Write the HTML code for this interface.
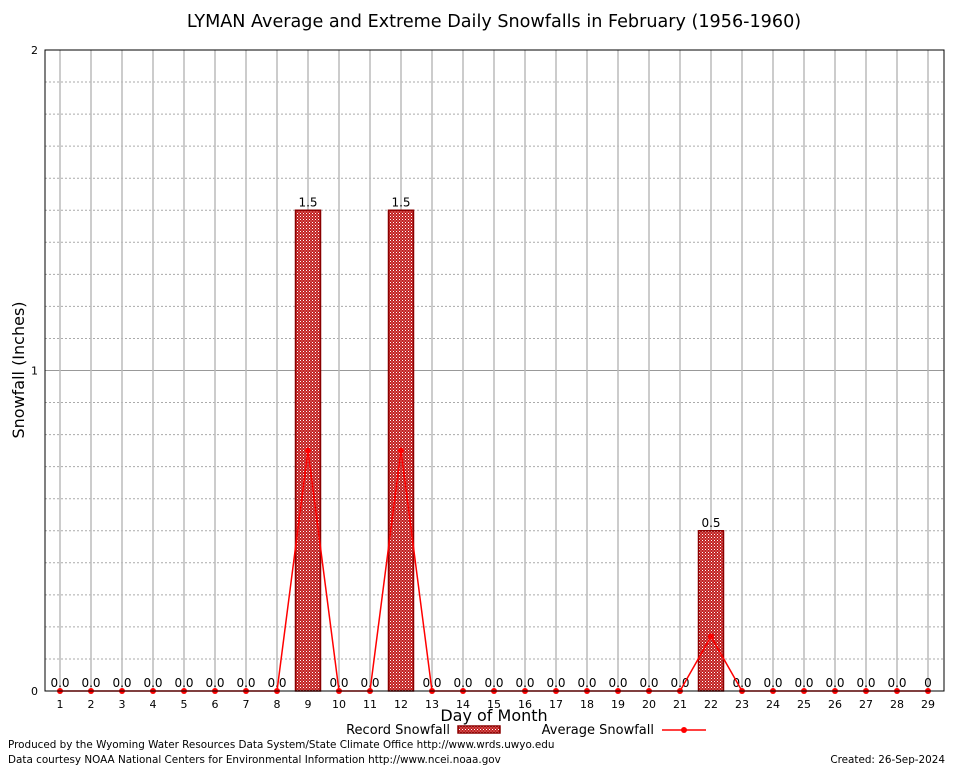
<!DOCTYPE html>
<html><head><meta charset="utf-8"><style>
body{margin:0;background:#fff;}
svg text{font-family:"DejaVu Sans","Liberation Sans",sans-serif;}
</style></head><body>
<svg id="c" width="954" height="768" xmlns="http://www.w3.org/2000/svg">
<defs>
<pattern id="hatch" width="3" height="3" patternUnits="userSpaceOnUse">
<rect width="3" height="3" fill="#c02020"/>
<rect width="1" height="1" fill="#fff"/>
<rect x="1.5" y="1.5" width="1" height="1" fill="#f0b0b0"/>
</pattern>
</defs>
<rect x="0" y="0" width="954" height="768" fill="#fff"/>
<text x="494" y="27" font-size="17.6" text-anchor="middle">LYMAN Average and Extreme Daily Snowfalls in February (1956-1960)</text>
<g id="grid"></g>
<g id="marks"></g>
<rect x="45" y="50" width="899" height="641" fill="none" stroke="#000" stroke-width="1"/>
<text x="24" y="370" font-size="16" text-anchor="middle" transform="rotate(-90 24 370)">Snowfall (Inches)</text>
<text x="494" y="721" font-size="16" text-anchor="middle">Day of Month</text>
<g>
<text x="450" y="734" font-size="13" text-anchor="end">Record Snowfall</text>
<rect x="458" y="726" width="42" height="7" fill="url(#hatch)" stroke="#8b0000" stroke-width="1.5"/>
</g>
<g>
<text x="654" y="734" font-size="13" text-anchor="end">Average Snowfall</text>
<line x1="662" y1="730" x2="706" y2="730" stroke="#f00" stroke-width="1.5"/>
<circle cx="684" cy="730" r="3" fill="#f00"/>
</g>
<text x="8" y="748" font-size="10.4">Produced by the Wyoming Water Resources Data System/State Climate Office http://www.wrds.uwyo.edu</text>
<text x="8" y="763" font-size="10.4">Data courtesy NOAA National Centers for Environmental Information http://www.ncei.noaa.gov</text>
<text x="945" y="763" font-size="10.4" text-anchor="end">Created:  26-Sep-2024</text>
</svg>
<script>
const days=[1,2,3,4,5,6,7,8,9,10,11,12,13,14,15,16,17,18,19,20,21,22,23,24,25,26,27,28,29];
const recordVals=[0,0,0,0,0,0,0,0,1.5,0,0,1.5,0,0,0,0,0,0,0,0,0,0.5,0,0,0,0,0,0,0];
const avgVals=[0,0,0,0,0,0,0,0,0.75,0,0,0.75,0,0,0,0,0,0,0,0,0,0.17,0,0,0,0,0,0,0];
const recordLabels=["0.0","0.0","0.0","0.0","0.0","0.0","0.0","0.0","1.5","0.0","0.0","1.5","0.0","0.0","0.0","0.0","0.0","0.0","0.0","0.0","0.0","0.5","0.0","0.0","0.0","0.0","0.0","0.0","0"];
const yTicks=[0,1,2];
const NS="http://www.w3.org/2000/svg";
const X=d=>60+(d-1)*31;
const Y=v=>691-v*320.5;
function mk(t,a,p){const e=document.createElementNS(NS,t);for(const k in a)e.setAttribute(k,a[k]);p.appendChild(e);return e;}
const grid=document.getElementById('grid'),marks=document.getElementById('marks');
for(let i=1;i<20;i++){if(i===10)continue;const l=mk('line',{x1:45,x2:944,y1:Y(i/10),y2:Y(i/10),stroke:'#aaa','stroke-dasharray':'2,2','stroke-width':1},grid);

}
yTicks.forEach(v=>{const l=mk('line',{x1:45,x2:944,y1:Y(v),y2:Y(v),stroke:'#999','stroke-width':1},grid);


const t=mk('text',{x:38,y:Y(v)+4,'font-size':11,'text-anchor':'end','font-family':'Liberation Serif,serif'},grid);t.textContent=v;

});
days.forEach((d,i)=>{
const l=mk('line',{x1:X(d),x2:X(d),y1:50,y2:691,stroke:'#bbb','stroke-width':1.5},grid);


const t=mk('text',{x:X(d),y:708,'font-size':11,'text-anchor':'middle','font-family':'Liberation Serif,serif'},grid);t.textContent=d;


if(recordVals[i]>0){const b=mk('rect',{x:X(d)-12.5,y:Y(recordVals[i]),width:25,height:691-Y(recordVals[i]),fill:'url(#hatch)',stroke:'#8b0000','stroke-width':1.5},marks);

}
const lb=mk('text',{x:X(d),y:Y(recordVals[i])-4,'font-size':12,'text-anchor':'middle'},marks);lb.textContent=recordLabels[i];


});
const pl=mk('polyline',{points:days.map((d,i)=>X(d)+','+Y(avgVals[i])).join(' '),fill:'none',stroke:'#f00','stroke-width':1.5},marks);


days.forEach((d,i)=>{const c=mk('circle',{cx:X(d),cy:Y(avgVals[i]),r:3,fill:'#f00'},marks);

});
</script>
</body></html>
